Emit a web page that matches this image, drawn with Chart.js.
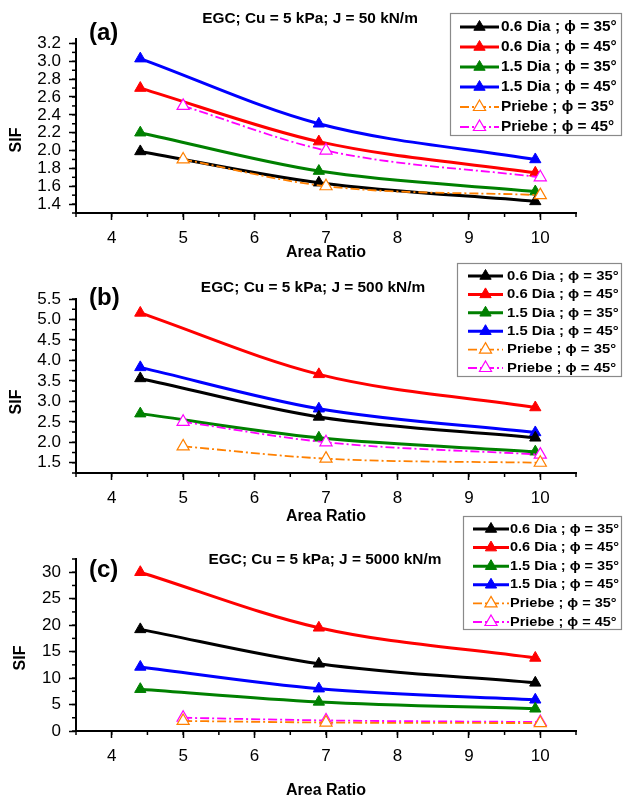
<!DOCTYPE html>
<html>
<head>
<meta charset="utf-8">
<script src="https://cdn.jsdelivr.net/npm/chart.js@4.4.1/dist/chart.umd.min.js"></script>
<style>
  body { margin: 0; background: #fff; width: 623px; height: 800px; overflow: hidden; position: relative; }
  .panel { position: absolute; left: 0; width: 623px; }
  .panel canvas { display: block; }
</style>
</head>
<body>
<div class="panel" style="top:0px"><canvas id="chartA" width="623" height="262"></canvas></div>
<div class="panel" style="top:258px"><canvas id="chartB" width="623" height="268"></canvas></div>
<div class="panel" style="top:505px"><canvas id="chartC" width="623" height="295"></canvas></div>
<script>
// series names, same in all three panels
const seriesLabels = ['0.6 Dia ; ϕ = 35°', '0.6 Dia ; ϕ = 45°', '1.5 Dia ; ϕ = 35°', '1.5 Dia ; ϕ = 45°', 'Priebe ; ϕ = 35°', 'Priebe ; ϕ = 45°'];
const seriesColors = ['#000000', '#ff0000', '#008000', '#0000ff', '#ff8000', '#ff00ff'];

// area ratios
const modelArea = [4.4, 6.9, 9.93];
const priebeArea = [5, 7, 10];

// Priebe (same for every J)
const priebe35 = [1.9, 1.6, 1.5];
const priebe45 = [2.5, 2.0, 1.7];

// (a) J = 50 kN/m
const a_dia06_35 = [1.99, 1.64, 1.43];
const a_dia06_45 = [2.70, 2.10, 1.75];
const a_dia15_35 = [2.20, 1.77, 1.54];
const a_dia15_45 = [3.03, 2.30, 1.90];

// (b) J = 500 kN/m
const b_dia06_35 = [3.56, 2.62, 2.11];
const b_dia06_45 = [5.16, 3.66, 2.85];
const b_dia15_35 = [2.70, 2.11, 1.77];
const b_dia15_45 = [3.83, 2.82, 2.24];

// (c) J = 5000 kN/m
const c_dia06_35 = [19.2, 12.7, 9.1];
const c_dia06_45 = [30.0, 19.5, 13.8];
const c_dia15_35 = [7.9, 5.5, 4.2];
const c_dia15_45 = [12.1, 8.0, 5.9];

const FONT = '"Liberation Sans", Arial, sans-serif';
const STRETCH = 1.1; // the figure's lettering is a bit wide

// multiples of step inside the scale range
function stepValues(min, max, step) {
    const out = [];
    const n0 = Math.ceil(min / step - 1e-6), n1 = Math.floor(max / step + 1e-6);
    for (let n = n0; n <= n1; n++) out.push(+(n * step).toFixed(6));
    return out;
}

function wideText(ctx, text, x, y) {
    ctx.save();
    ctx.translate(x, y);
    ctx.scale(STRETCH, 1);
    ctx.fillText(text, 0, 0);
    ctx.restore();
}

// small ticks between the labelled ones
const minorTicks = {
    id: 'minorTicks',
    afterDraw(chart, args, opts) {
        const ctx = chart.ctx, area = chart.chartArea;
        ctx.save();
        ctx.strokeStyle = '#000';
        ctx.lineWidth = 1.5;
        ['x', 'y'].forEach(id => {
            const s = chart.scales[id];
            stepValues(s.min, s.max, opts[id]).forEach(v => {
                const p = s.getPixelForValue(v);
                ctx.beginPath();
                if (id === 'x') { ctx.moveTo(p, area.bottom); ctx.lineTo(p, area.bottom + 4); }
                else { ctx.moveTo(area.left, p); ctx.lineTo(area.left - 4, p); }
                ctx.stroke();
            });
        });
        ctx.restore();
    }
};

// panel letter, subtitle, and SIF axis label
const panelText = {
    id: 'panelText',
    afterDraw(chart, args, o) {
        const ctx = chart.ctx, area = chart.chartArea;
        ctx.save();
        ctx.fillStyle = '#000';
        ctx.textBaseline = 'middle';
        ctx.textAlign = 'left';
        ctx.font = 'bold 24px ' + FONT;
        ctx.fillText(o.letter, area.left + 13, area.top + o.letterDy);
        ctx.textAlign = 'center';
        ctx.font = 'bold 14px ' + FONT;
        wideText(ctx, o.subtitle, o.subX, area.top + o.subDy);
        ctx.translate(o.sifX, area.top + o.sifDy);
        ctx.rotate(-Math.PI / 2);
        ctx.font = 'bold 16px ' + FONT;
        ctx.fillText('SIF', 0, 0);
        ctx.restore();
    }
};

// boxed legend at the top right
const boxLegend = {
    id: 'boxLegend',
    afterDraw(chart, args, o) {
        const ctx = chart.ctx;
        ctx.save();
        ctx.fillStyle = '#fff';
        ctx.fillRect(o.x, o.y, o.w, o.h);
        ctx.strokeStyle = '#8a8a8a';
        ctx.lineWidth = 1.2;
        ctx.strokeRect(o.x + 0.5, o.y + 0.5, o.w - 1, o.h - 1);
        chart.data.datasets.forEach((ds, i) => {
            const y = o.row0 + i * o.rowStep;
            ctx.strokeStyle = ds.borderColor;
            ctx.lineWidth = ds.borderWidth;
            ctx.setLineDash(ds.borderDash || []);
            ctx.beginPath();
            ctx.moveTo(o.lineX0, y);
            ctx.lineTo(o.lineX1, y);
            ctx.stroke();
            ctx.setLineDash([]);
            ctx.fillStyle = ds.pointBackgroundColor;
            ctx.strokeStyle = ds.pointBorderColor;
            ctx.lineWidth = ds.pointBorderWidth;
            Chart.helpers.drawPoint(ctx, { pointStyle: 'triangle', radius: ds.pointRadius, rotation: 0, borderWidth: ds.pointBorderWidth }, (o.lineX0 + o.lineX1) / 2, y);
            ctx.fillStyle = '#000';
            ctx.font = 'bold ' + o.fontSize + 'px ' + FONT;
            ctx.textAlign = 'left';
            ctx.textBaseline = 'middle';
            wideText(ctx, ds.label, o.textX, y);
        });
        ctx.restore();
    }
};

function buildDatasets(modelSets) {
    const sets = modelSets.concat([priebe35, priebe45]);
    return sets.map((vals, i) => {
        const priebe = i >= 4;
        const xs = priebe ? priebeArea : modelArea;
        return {
            label: seriesLabels[i],
            data: vals.map((v, k) => ({ x: xs[k], y: v })),
            borderColor: seriesColors[i],
            borderWidth: priebe ? 1.8 : 3,
            borderDash: priebe ? [9, 3, 2, 3] : [],
            pointStyle: 'triangle',
            pointRadius: priebe ? 7 : 6.5,
            pointBackgroundColor: priebe ? '#ffffff' : seriesColors[i],
            pointBorderColor: seriesColors[i],
            pointBorderWidth: priebe ? 1.2 : 1,
            cubicInterpolationMode: 'monotone',
            tension: 0.4,
            fill: false,
            order: priebe ? -1 : 0
        };
    });
}

function makeChart(id, p) {
    const majorTicks = step => scale => {
        scale.ticks = stepValues(scale.min, scale.max, step).map(v => ({ value: v }));
    };
    return new Chart(document.getElementById(id).getContext('2d'), {
        type: 'line',
        data: { datasets: buildDatasets(p.models) },
        plugins: [minorTicks, panelText, boxLegend],
        options: {
            responsive: false,
            animation: false,
            devicePixelRatio: 1,
            layout: { padding: { top: p.padTop, right: 47, left: 0, bottom: 0 } },
            scales: {
                x: {
                    type: 'linear',
                    min: 3.5,
                    max: 10.5,
                    afterFit: s => { s.height = p.xHeight; },
                    afterBuildTicks: majorTicks(1),
                    ticks: { autoSkip: false, maxRotation: 0, color: '#000', padding: 8, font: { family: FONT, size: 17 } },
                    grid: { drawOnChartArea: false, tickLength: 7, tickColor: '#000', tickWidth: 1.5 },
                    border: { display: true, color: '#000', width: 2 },
                    title: { display: true, text: 'Area Ratio', color: '#000', padding: { top: 0, bottom: 0 }, font: { family: FONT, size: 16, weight: 'bold' } }
                },
                y: {
                    type: 'linear',
                    min: p.yMin,
                    max: p.yMax,
                    afterFit: s => { s.width = 76; },
                    afterBuildTicks: majorTicks(p.yStep),
                    ticks: {
                        autoSkip: false,
                        color: '#000',
                        padding: 8,
                        font: { family: FONT, size: 17 },
                        callback: v => v.toFixed(p.yDec)
                    },
                    grid: { drawOnChartArea: false, tickLength: 7, tickColor: '#000', tickWidth: 1.5 },
                    border: { display: true, color: '#000', width: 2 }
                }
            },
            plugins: {
                legend: { display: false },
                tooltip: { enabled: false },
                minorTicks: { x: 0.5, y: p.yMinor },
                panelText: p.text,
                boxLegend: p.legend
            }
        }
    });
}

// (a)
makeChart('chartA', {
    models: [a_dia06_35, a_dia06_45, a_dia15_35, a_dia15_45],
    padTop: 39, xHeight: 49,
    yMin: 1.3, yMax: 3.25, yStep: 0.2, yMinor: 0.1, yDec: 1,
    text: { letter: '(a)', letterDy: -6, subtitle: 'EGC; Cu = 5 kPa; J = 50 kN/m', subX: 310, subDy: -20, sifX: 17, sifDy: 101 },
    legend: { x: 450, y: 13, w: 172, h: 123, row0: 27, rowStep: 20, lineX0: 460, lineX1: 499, textX: 501, fontSize: 14 }
});

// (b)
makeChart('chartB', {
    models: [b_dia06_35, b_dia06_45, b_dia15_35, b_dia15_45],
    padTop: 41, xHeight: 53,
    yMin: 1.25, yMax: 5.5, yStep: 0.5, yMinor: 0.25, yDec: 1,
    text: { letter: '(b)', letterDy: -1, subtitle: 'EGC; Cu = 5 kPa; J = 500 kN/m', subX: 313, subDy: -11, sifX: 17, sifDy: 103 },
    legend: { x: 457, y: 5, w: 165, h: 114, row0: 18, rowStep: 18.4, lineX0: 468, lineX1: 503, textX: 507, fontSize: 13.5 }
});

// (c)
makeChart('chartC', {
    models: [c_dia06_35, c_dia06_45, c_dia15_35, c_dia15_45],
    padTop: 54, xHeight: 69,
    yMin: 0, yMax: 32.5, yStep: 5, yMinor: 2.5, yDec: 0,
    text: { letter: '(c)', letterDy: 11, subtitle: 'EGC; Cu = 5 kPa; J = 5000 kN/m', subX: 325, subDy: 1, sifX: 21, sifDy: 99 },
    legend: { x: 463, y: 11, w: 159, h: 114, row0: 24, rowStep: 18.6, lineX0: 473, lineX1: 509, textX: 510, fontSize: 13.2 }
});
</script>
</body>
</html>
